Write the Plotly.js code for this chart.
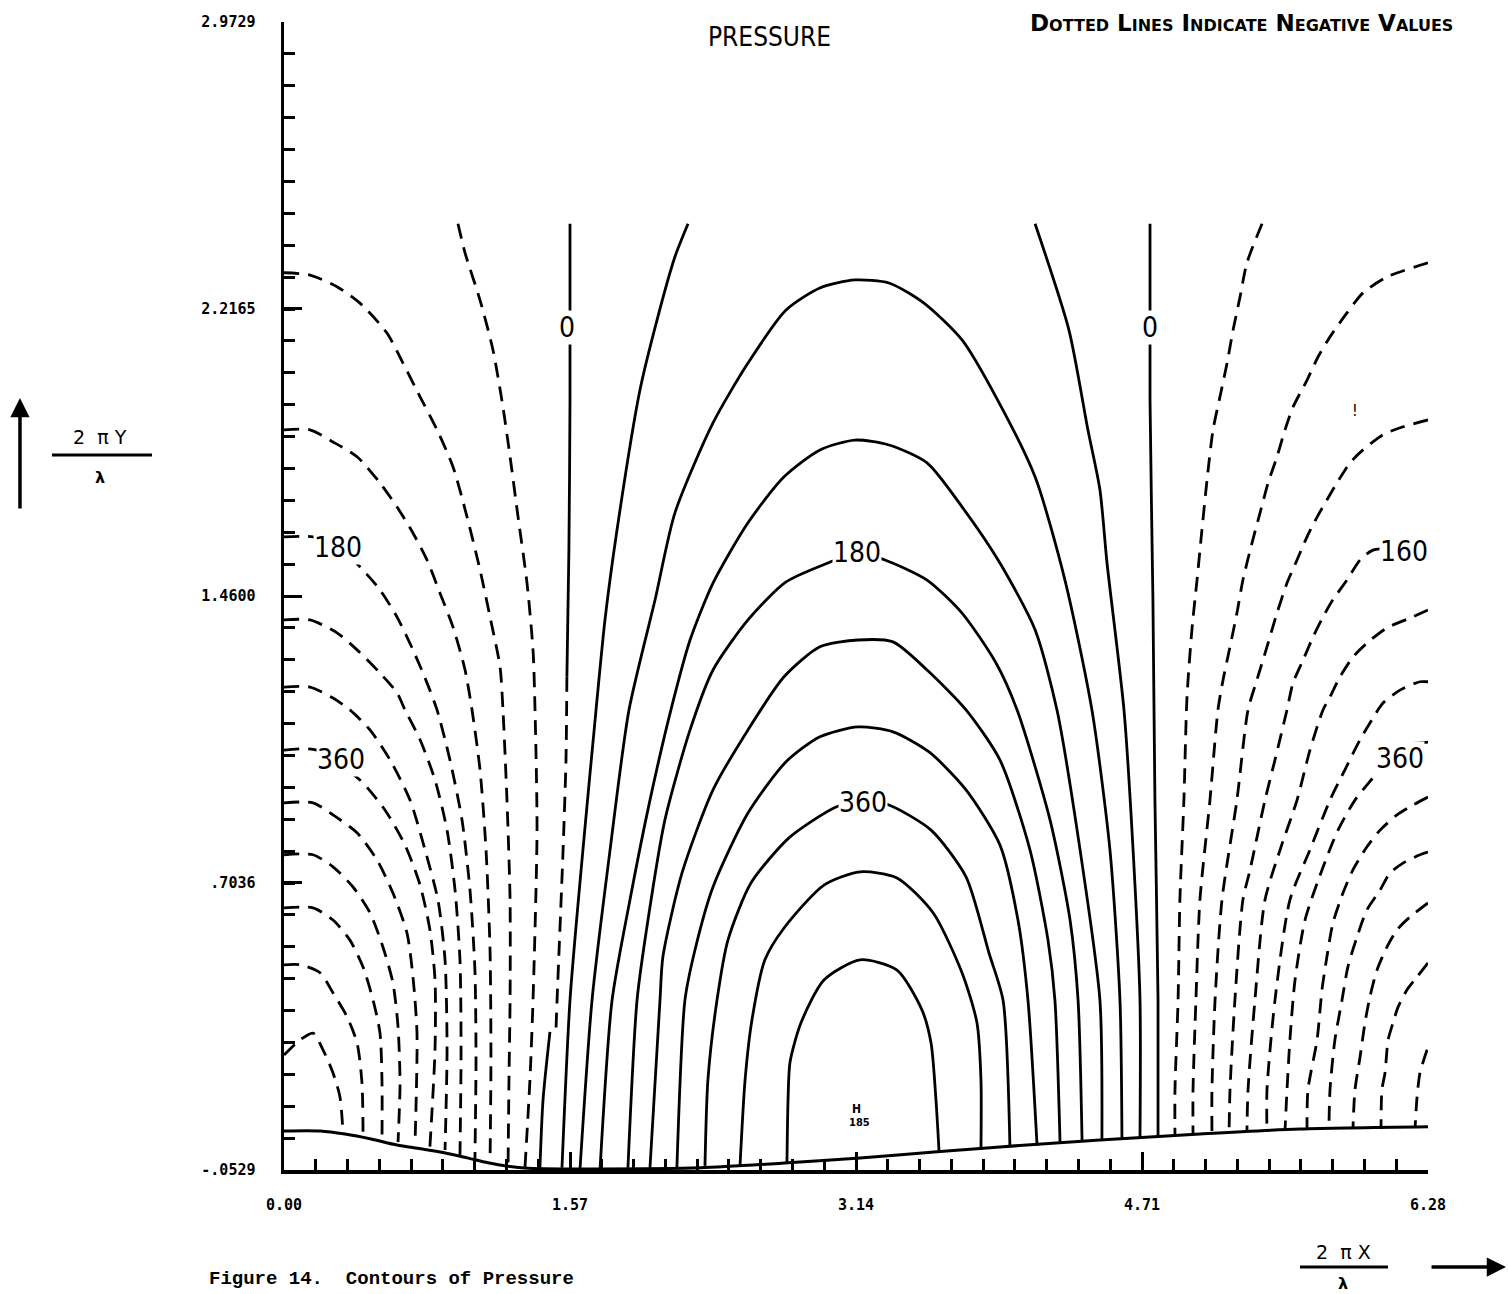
<!DOCTYPE html>
<html>
<head>
<meta charset="utf-8">
<script src="https://cdn.plot.ly/plotly-3.0.1.min.js"></script>
<style>html,body{margin:0;padding:0;background:#fff;}</style>
</head>
<body>
<div id="chart" style="width:1508px;height:1294px;"></div>
<script>
// ---------- axis ticks ----------
const xTickVals = [0, 1.57, 3.14, 4.71, 6.28];
const xTickText = ['0.00', '1.57', '3.14', '4.71', '6.28'];
const yTickVals = [-0.0529, 0.7036, 1.4600, 2.2165, 2.9729];
const yTickText = ['-.0529', '.7036', '1.4600', '2.2165', '2.9729'];

// ---------- wavy wall (lower boundary) ----------
const wallX = [0, 0.198, 0.335, 0.478, 0.620, 0.750, 0.873, 1.005, 1.120, 1.230, 1.340, 1.735, 2.284, 2.767, 3.162, 3.585, 3.930, 4.479, 5.028, 5.577, 6.280];
const wallY = [0.050, 0.050, 0.042, 0.029, 0.013, 0.003, -0.007, -0.021, -0.034, -0.043, -0.048, -0.050, -0.047, -0.034, -0.021, -0.005, 0.008, 0.026, 0.042, 0.055, 0.061];

// ---------- negative contours, left (dashed) ----------
const negL1X = [0.955, 0.994, 1.076, 1.147, 1.202, 1.241, 1.285, 1.334, 1.367, 1.378, 1.389, 1.367, 1.350, 1.323];
const negL1Y = [2.441, 2.364, 2.240, 2.109, 1.958, 1.827, 1.668, 1.494, 1.318, 1.160, 0.843, 0.395, 0.184, -0.045];
const negL2X = [0, 0.143, 0.291, 0.417, 0.565, 0.653, 0.747, 0.840, 0.928, 1.005, 1.076, 1.131, 1.186, 1.202, 1.224, 1.241, 1.241, 1.235, 1.230];
const negL2Y = [2.312, 2.306, 2.275, 2.232, 2.153, 2.074, 1.985, 1.898, 1.800, 1.668, 1.529, 1.405, 1.273, 1.160, 0.922, 0.659, 0.395, 0.184, -0.042];
const negL3X = [0, 0.143, 0.269, 0.401, 0.527, 0.620, 0.708, 0.785, 0.856, 0.928, 0.994, 1.032, 1.076, 1.109, 1.131, 1.136, 1.131];
const negL3Y = [1.898, 1.898, 1.866, 1.827, 1.758, 1.695, 1.626, 1.555, 1.468, 1.378, 1.265, 1.160, 1.002, 0.791, 0.527, 0.237, -0.037];
const negL4X = [0, 0.159, 0.291, 0.417, 0.527, 0.620, 0.708, 0.785, 0.840, 0.911, 0.977, 1.021, 1.048, 1.054, 1.048];
const negL4Y = [1.616, 1.616, 1.595, 1.537, 1.476, 1.405, 1.318, 1.231, 1.160, 1.028, 0.870, 0.685, 0.474, 0.237, -0.026];
const negL5X = [0, 0.143, 0.291, 0.401, 0.527, 0.620, 0.664, 0.747, 0.829, 0.895, 0.939, 0.966, 0.972, 0.966];
const negL5Y = [1.397, 1.397, 1.363, 1.318, 1.257, 1.205, 1.160, 1.081, 0.975, 0.843, 0.685, 0.501, 0.264, -0.013];
const negL6X = [0, 0.143, 0.269, 0.362, 0.472, 0.582, 0.692, 0.774, 0.845, 0.884, 0.895, 0.884];
const negL6Y = [1.220, 1.220, 1.191, 1.160, 1.107, 1.028, 0.922, 0.791, 0.659, 0.501, 0.264, 0.000];
const negL7X = [0, 0.181, 0.417, 0.554, 0.664, 0.747, 0.801, 0.829, 0.829, 0.801];
const negL7Y = [1.054, 1.054, 0.975, 0.896, 0.804, 0.698, 0.580, 0.448, 0.264, 0.008];
const negL8X = [0, 0.159, 0.269, 0.401, 0.511, 0.598, 0.675, 0.708, 0.730, 0.719];
const negL8Y = [0.915, 0.915, 0.883, 0.836, 0.764, 0.677, 0.572, 0.456, 0.308, 0.013];
const negL9X = [0, 0.159, 0.269, 0.379, 0.472, 0.543, 0.598, 0.626, 0.637, 0.626];
const negL9Y = [0.778, 0.778, 0.746, 0.693, 0.625, 0.535, 0.440, 0.324, 0.177, 0.021];
const negL10X = [0, 0.159, 0.269, 0.362, 0.434, 0.489, 0.527, 0.538, 0.538];
const negL10Y = [0.638, 0.638, 0.606, 0.553, 0.482, 0.395, 0.308, 0.177, 0.026];
const negL11X = [0, 0.088, 0.198, 0.269, 0.346, 0.401, 0.428, 0.434];
const negL11Y = [0.488, 0.488, 0.467, 0.414, 0.351, 0.282, 0.177, 0.037];
const negL12X = [0, 0.088, 0.159, 0.214, 0.269, 0.307, 0.324];
const negL12Y = [0.250, 0.290, 0.308, 0.264, 0.203, 0.140, 0.045];

// ---------- zero contours ----------
const zeroLeftTopX = [1.570, 1.570, 1.564, 1.553];
const zeroLeftTopY = [2.441, 1.977, 1.581, 1.247];
const zeroLeftMidX = [1.553, 1.548, 1.532, 1.499, 1.493];
const zeroLeftMidY = [1.247, 1.028, 0.791, 0.395, 0.316];
const zeroLeftLowX = [1.460, 1.422, 1.405];
const zeroLeftLowY = [0.311, 0.132, -0.047];
const zeroRightX = [4.754, 4.754, 4.770, 4.781, 4.798, 4.798];
const zeroRightY = [2.441, 1.977, 1.450, 0.922, 0.395, 0.034];

// ---------- positive contours (solid arches) ----------
const posA1LeftX = [2.218, 2.146, 2.048, 1.954, 1.828, 1.762, 1.713, 1.641, 1.570, 1.526];
const posA1LeftY = [2.441, 2.354, 2.188, 2.003, 1.634, 1.397, 1.160, 0.791, 0.395, -0.047];
const posA1RightX = [4.123, 4.309, 4.413, 4.479, 4.518, 4.611, 4.661, 4.699, 4.699];
const posA1RightY = [2.441, 2.161, 1.898, 1.740, 1.547, 1.160, 0.791, 0.395, 0.029];
const posA2X = [1.625, 1.691, 1.790, 1.894, 2.037, 2.146, 2.355, 2.547, 2.756, 2.942, 3.134, 3.321, 3.513, 3.722, 3.908, 4.123, 4.287, 4.435, 4.534, 4.589, 4.600];
const posA2Y = [-0.050, 0.395, 0.791, 1.160, 1.450, 1.679, 1.916, 2.074, 2.214, 2.272, 2.293, 2.285, 2.232, 2.135, 1.985, 1.774, 1.502, 1.160, 0.791, 0.395, 0.029];
const posA3X = [1.735, 1.801, 1.899, 2.009, 2.124, 2.229, 2.355, 2.547, 2.745, 2.942, 3.134, 3.321, 3.530, 3.722, 3.930, 4.123, 4.243, 4.370, 4.479, 4.490];
const posA3Y = [-0.050, 0.395, 0.659, 0.922, 1.160, 1.344, 1.494, 1.653, 1.774, 1.845, 1.871, 1.858, 1.811, 1.695, 1.547, 1.371, 1.160, 0.791, 0.395, 0.026];
const posA4X = [1.888, 1.938, 1.998, 2.091, 2.229, 2.355, 2.547, 2.756, 2.986, 3.145, 3.299, 3.530, 3.722, 3.908, 4.024, 4.205, 4.315, 4.359, 4.381];
const posA4Y = [-0.047, 0.395, 0.606, 0.870, 1.107, 1.265, 1.397, 1.497, 1.547, 1.574, 1.555, 1.502, 1.415, 1.284, 1.160, 0.870, 0.606, 0.395, 0.024];
const posA5X = [2.009, 2.064, 2.080, 2.185, 2.355, 2.547, 2.745, 2.942, 3.151, 3.343, 3.530, 3.744, 3.930, 4.095, 4.194, 4.232, 4.260];
const posA5Y = [-0.047, 0.395, 0.509, 0.730, 0.949, 1.107, 1.247, 1.326, 1.344, 1.339, 1.265, 1.160, 1.028, 0.791, 0.553, 0.395, 0.021];
const posA6X = [2.157, 2.201, 2.256, 2.355, 2.547, 2.756, 2.942, 3.151, 3.343, 3.541, 3.744, 3.930, 4.029, 4.084, 4.134];
const posA6Y = [-0.045, 0.395, 0.527, 0.693, 0.888, 1.023, 1.089, 1.115, 1.102, 1.049, 0.949, 0.804, 0.606, 0.395, 0.011];
const posA7X = [2.311, 2.327, 2.377, 2.437, 2.564, 2.778, 3.030, 3.173, 3.321, 3.552, 3.744, 3.870, 3.947, 3.985];
const posA7Y = [-0.042, 0.184, 0.395, 0.553, 0.704, 0.825, 0.904, 0.922, 0.909, 0.843, 0.720, 0.519, 0.395, 0.008];
const posA8X = [2.503, 2.531, 2.569, 2.640, 2.745, 2.964, 3.162, 3.365, 3.563, 3.722, 3.804, 3.826, 3.826];
const posA8Y = [-0.045, 0.184, 0.343, 0.501, 0.585, 0.698, 0.733, 0.717, 0.625, 0.467, 0.335, 0.184, 0.000];
const posA9X = [2.761, 2.767, 2.778, 2.838, 2.964, 3.162, 3.365, 3.502, 3.552, 3.579, 3.596];
const posA9Y = [-0.034, 0.132, 0.232, 0.335, 0.448, 0.501, 0.474, 0.369, 0.282, 0.132, -0.005];

// ---------- negative contours, right (dashed) ----------
const negR1X = [5.369, 5.286, 5.248, 5.210, 5.177, 5.138, 5.100, 5.067, 5.039, 5.012, 4.984, 4.957, 4.940, 4.918, 4.908, 4.891, 4.891];
const negR1Y = [2.441, 2.338, 2.248, 2.161, 2.074, 1.985, 1.898, 1.766, 1.634, 1.502, 1.371, 1.194, 0.922, 0.659, 0.395, 0.158, 0.037];
const negR2X = [6.280, 6.055, 5.923, 5.835, 5.742, 5.676, 5.616, 5.539, 5.495, 5.451, 5.402, 5.358, 5.314, 5.264, 5.231, 5.193, 5.155, 5.127, 5.083, 5.028, 5.006, 4.990, 4.990];
const negR2Y = [2.338, 2.301, 2.259, 2.206, 2.143, 2.090, 2.029, 1.958, 1.898, 1.827, 1.758, 1.679, 1.600, 1.502, 1.415, 1.326, 1.239, 1.160, 0.922, 0.659, 0.395, 0.158, 0.040];
const negR3X = [6.280, 6.143, 6.033, 5.923, 5.852, 5.780, 5.725, 5.671, 5.616, 5.561, 5.506, 5.451, 5.396, 5.341, 5.292, 5.231, 5.149, 5.111, 5.094, 5.094];
const negR3Y = [1.924, 1.906, 1.885, 1.845, 1.811, 1.758, 1.713, 1.668, 1.616, 1.555, 1.494, 1.415, 1.326, 1.239, 1.160, 0.922, 0.659, 0.395, 0.158, 0.042];
const negR4X = [6.280, 6.126, 5.978, 5.907, 5.835, 5.758, 5.704, 5.649, 5.594, 5.539, 5.506, 5.440, 5.385, 5.303, 5.264, 5.220, 5.193, 5.188];
const negR4Y = [1.595, 1.587, 1.581, 1.555, 1.502, 1.450, 1.405, 1.352, 1.291, 1.231, 1.160, 1.028, 0.922, 0.738, 0.659, 0.395, 0.158, 0.045];
const negR5X = [6.280, 6.181, 6.055, 5.945, 5.868, 5.797, 5.742, 5.704, 5.632, 5.561, 5.468, 5.385, 5.330, 5.292, 5.286];
const negR5Y = [1.423, 1.402, 1.376, 1.336, 1.299, 1.247, 1.194, 1.160, 1.054, 0.922, 0.791, 0.659, 0.395, 0.158, 0.047];
const negR6X = [6.280, 6.236, 6.126, 6.033, 6.006, 5.907, 5.824, 5.742, 5.632, 5.522, 5.440, 5.396, 5.396];
const negR6Y = [1.234, 1.234, 1.212, 1.178, 1.160, 1.081, 1.002, 0.922, 0.791, 0.659, 0.395, 0.158, 0.050];
const negR7X = [6.280, 6.099, 6.000, 5.879, 5.786, 5.698, 5.605, 5.550, 5.522, 5.506, 5.495];
const negR7Y = [1.075, 1.060, 0.994, 0.922, 0.843, 0.738, 0.606, 0.448, 0.290, 0.158, 0.050];
const negR8X = [6.280, 6.198, 6.110, 6.017, 5.945, 5.868, 5.813, 5.758, 5.725, 5.698, 5.671, 5.621, 5.616];
const negR8Y = [0.930, 0.909, 0.883, 0.843, 0.799, 0.738, 0.677, 0.598, 0.509, 0.422, 0.290, 0.158, 0.053];
const negR9X = [6.280, 6.236, 6.143, 6.071, 6.017, 5.945, 5.890, 5.840, 5.808, 5.769, 5.742, 5.736];
const negR9Y = [0.785, 0.778, 0.756, 0.730, 0.685, 0.633, 0.561, 0.482, 0.395, 0.290, 0.158, 0.053];
const negR10X = [6.280, 6.181, 6.110, 6.055, 6.000, 5.961, 5.934, 5.907, 5.879, 5.868];
const negR10Y = [0.651, 0.614, 0.580, 0.535, 0.474, 0.403, 0.335, 0.245, 0.158, 0.055];
const negR11X = [6.280, 6.220, 6.165, 6.116, 6.088, 6.061, 6.044, 6.027, 6.022];
const negR11Y = [0.493, 0.456, 0.422, 0.377, 0.335, 0.290, 0.203, 0.158, 0.055];
const negR12X = [6.275, 6.236, 6.220, 6.209];
const negR12Y = [0.264, 0.203, 0.140, 0.058];

// ---------- contour labels ----------
const labelText = ['0', '0', '180', '360', '180', '360', '160', '360'];
const labelX = [1.553, 4.754, 3.145, 3.178, 0.296, 0.313, 6.148, 6.126];
const labelY = [2.167, 2.167, 1.574, 0.915, 1.587, 1.028, 1.576, 1.033];

// ---------- build traces ----------
const solidStyle = {color: '#000', width: 2.8, shape: 'spline', smoothing: 0.7};
const dashStyle = {color: '#000', width: 2.8, shape: 'spline', smoothing: 0.7, dash: '15px,9px'};
const traces = [];
function addLine(xs, ys, dashed) {
  traces.push({type: 'scatter', mode: 'lines', x: xs, y: ys,
    line: dashed ? dashStyle : solidStyle, hoverinfo: 'skip', showlegend: false, cliponaxis: false});
}
[[negL1X, negL1Y], [negL2X, negL2Y], [negL3X, negL3Y], [negL4X, negL4Y], [negL5X, negL5Y], [negL6X, negL6Y],
 [negL7X, negL7Y], [negL8X, negL8Y], [negL9X, negL9Y], [negL10X, negL10Y], [negL11X, negL11Y], [negL12X, negL12Y],
 [negR1X, negR1Y], [negR2X, negR2Y], [negR3X, negR3Y], [negR4X, negR4Y], [negR5X, negR5Y], [negR6X, negR6Y],
 [negR7X, negR7Y], [negR8X, negR8Y], [negR9X, negR9Y], [negR10X, negR10Y], [negR11X, negR11Y], [negR12X, negR12Y],
 [zeroLeftMidX, zeroLeftMidY]].forEach(p => addLine(p[0], p[1], true));
[[zeroLeftTopX, zeroLeftTopY], [zeroLeftLowX, zeroLeftLowY], [zeroRightX, zeroRightY],
 [posA1LeftX, posA1LeftY], [posA1RightX, posA1RightY], [posA2X, posA2Y], [posA3X, posA3Y], [posA4X, posA4Y],
 [posA5X, posA5Y], [posA6X, posA6Y], [posA7X, posA7Y], [posA8X, posA8Y], [posA9X, posA9Y]].forEach(p => addLine(p[0], p[1], false));
traces.push({type: 'scatter', mode: 'lines', x: wallX, y: wallY,
  line: {color: '#000', width: 3, shape: 'spline', smoothing: 0.8}, hoverinfo: 'skip', showlegend: false, cliponaxis: false});

// ---------- annotations ----------
const narrow = 'Liberation Sans Narrow, Arial Narrow, DejaVu Sans Condensed, sans-serif';
const annotations = labelText.map((t, i) => ({
  x: labelX[i], y: labelY[i], xref: 'x', yref: 'y', xanchor: 'center', yanchor: 'middle', text: t, showarrow: false,
  font: {family: narrow, size: 28, color: '#000'}, bgcolor: '#fff', borderpad: 0
}));
function pa(o) { return Object.assign({xref: 'paper', yref: 'paper', xanchor: 'center', yanchor: 'middle', showarrow: false}, o); }
annotations.push(
  {x: 3.145, y: 0.108, xref: 'x', yref: 'y', xanchor: 'center', yanchor: 'middle', text: 'H', showarrow: false,
   font: {family: narrow, size: 12, color: '#000', weight: 'bold'}},
  {x: 3.160, y: 0.072, xref: 'x', yref: 'y', xanchor: 'center', yanchor: 'middle', text: '185', showarrow: false,
   font: {family: narrow, size: 11, color: '#000', weight: 'bold'}},
  {x: 5.879, y: 1.950, xref: 'x', yref: 'y', xanchor: 'center', yanchor: 'middle', text: '!', showarrow: false,
   font: {family: narrow, size: 16, color: '#000'}},
  pa({x: 0.4248, y: 0.9869, text: 'PRESSURE', font: {family: narrow, size: 26, color: '#000'}}),
  pa({x: 1.0236, y: 0.9993, xanchor: 'right', text: 'Dotted Lines Indicate Negative Values',
   font: {family: 'DejaVu Sans, sans-serif', size: 23, color: '#000', weight: 'bold', variant: 'small-caps'}}),
  // y-axis label fraction
  pa({x: -0.1608, y: 0.6385, text: '2  π Y', font: {family: 'DejaVu Sans, sans-serif', size: 19, color: '#000'}}),
  pa({x: -0.1608, y: 0.6028, text: 'λ', font: {family: 'DejaVu Sans, sans-serif', size: 16, color: '#000', weight: 'bold'}}),
  pa({x: -0.2308, y: 0.6725, text: '', showarrow: true,
   ax: 0, ay: 112, arrowhead: 2, arrowsize: 1.1, arrowwidth: 3.5, arrowcolor: '#000'}),
  // x-axis label fraction
  pa({x: 0.9257, y: -0.0714, text: '2  π X', font: {family: 'DejaVu Sans, sans-serif', size: 19, color: '#000'}}),
  pa({x: 0.9257, y: -0.0993, text: 'λ', font: {family: 'DejaVu Sans, sans-serif', size: 16, color: '#000', weight: 'bold'}}),
  pa({x: 1.0682, y: -0.0845, text: '', showarrow: true,
   ax: -76, ay: 0, arrowhead: 2, arrowsize: 1.1, arrowwidth: 3.5, arrowcolor: '#000'}),
  // caption
  pa({x: -0.0673, y: -0.1063, xanchor: 'left', yanchor: 'bottom',
   text: 'Figure 14.  Contours of Pressure',
   font: {family: 'Liberation Mono, DejaVu Sans Mono, monospace', size: 19, color: '#000', weight: 'bold'}})
);

const shapes = [
  {type: 'line', xref: 'paper', yref: 'paper', x0: -0.2028, x1: -0.1154, y0: 0.6228, y1: 0.6228,
   line: {color: '#000', width: 3}},
  {type: 'line', xref: 'paper', yref: 'paper', x0: 0.8881, x1: 0.9650, y0: -0.0845, y1: -0.0845,
   line: {color: '#000', width: 3}}
];

const tickFont = {family: 'DejaVu Sans Mono, monospace', size: 15, color: '#000', weight: 'bold'};
const layout = {
  width: 1508, height: 1294, autosize: false,
  margin: {l: 284, r: 80, t: 22, b: 124, pad: 0},
  paper_bgcolor: '#fff', plot_bgcolor: '#fff',
  showlegend: false, hovermode: false,
  xaxis: {
    range: [0, 6.28], showline: true, linecolor: '#000', linewidth: 3.5, mirror: false,
    showgrid: false, zeroline: false, ticks: 'inside', ticklen: 18, tickwidth: 3, tickcolor: '#000',
    tickmode: 'array', tickvals: xTickVals, ticktext: xTickText, tickfont: tickFont,
    ticklabelstandoff: 18,
    minor: {ticks: 'inside', ticklen: 11, tickwidth: 3, tickcolor: '#000', tick0: 0, dtick: 6.28 / 36, showgrid: false}
  },
  yaxis: {
    range: [-0.0529, 2.9729], showline: true, linecolor: '#000', linewidth: 3.5, mirror: false,
    showgrid: false, zeroline: false, ticks: 'inside', ticklen: 18, tickwidth: 3, tickcolor: '#000',
    tickmode: 'array', tickvals: yTickVals, ticktext: yTickText, tickfont: tickFont,
    ticklabelstandoff: 22,
    minor: {ticks: 'inside', ticklen: 11, tickwidth: 3, tickcolor: '#000', tick0: -0.0529, dtick: 3.0258 / 36, showgrid: false}
  },
  annotations: annotations,
  shapes: shapes
};

Plotly.newPlot('chart', traces, layout, {staticPlot: true, displayModeBar: false});
</script>
</body>
</html>
